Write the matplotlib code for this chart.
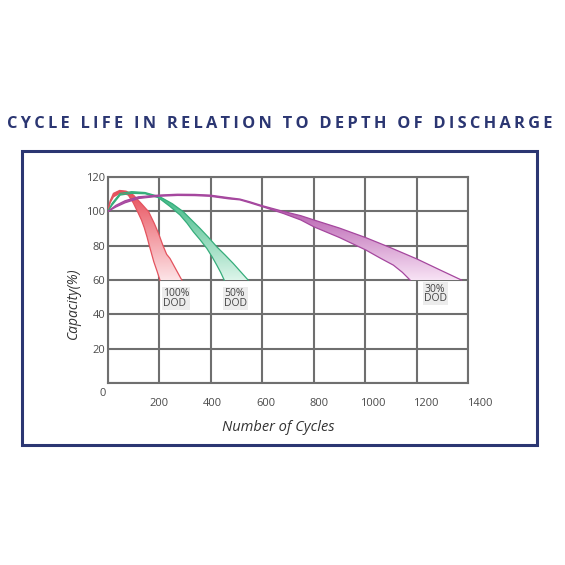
import numpy as np
import matplotlib
matplotlib.use("Agg")
import matplotlib.pyplot as plt
from matplotlib.patches import Polygon, Rectangle
from matplotlib.colors import LinearSegmentedColormap

plt.rcParams['font.family'] = ['Open Sans', 'DejaVu Sans']

# ---- data (cycles, capacity %) ----
red_outer_x = [0, 8, 21, 45, 70, 99, 130, 158, 180, 197, 213, 228, 241, 265, 287]
red_outer_y = [100, 106, 110.5, 112.2, 111.8, 109.5, 104.5, 99.8, 93, 87, 80.4, 75, 72.6, 66, 60]
red_inner_x = [0, 8, 21, 45, 65, 79, 98, 115, 130, 141, 152, 160, 170, 178, 190, 202]
red_inner_y = [100, 105, 108.5, 110.5, 110.3, 109.5, 105, 99.8, 95, 90.5, 85, 80.4, 75, 70.7, 65.5, 60]

green_outer_x = [0, 15, 47, 92, 144, 202, 250, 293, 325, 358, 390, 423, 456, 487, 515, 545]
green_outer_y = [100, 104.5, 110.5, 111.5, 111, 108.5, 104.5, 99.8, 95, 90.1, 85, 79.4, 74.5, 69.7, 65, 60]
green_inner_x = [0, 15, 47, 92, 144, 196, 240, 280, 308, 332, 358, 384, 405, 423, 438, 452]
green_inner_y = [100, 103.5, 109.5, 110.5, 110.3, 108, 103, 97.9, 93, 88.1, 83.5, 78.5, 73.5, 68.7, 64.5, 60]

purple_outer_x = [0, 30, 66, 118, 196, 270, 338, 397, 470, 513, 552, 601, 682, 750, 801,
                  900, 1003, 1100, 1203, 1290, 1375]
purple_outer_y = [100, 103.5, 106.2, 108.5, 109.5, 110, 109.9, 109.5, 108, 107.2, 105.6, 103.3, 100, 97.5, 95,
                  90.3, 84.7, 78.8, 72.2, 66, 60]
purple_inner_x = [0, 30, 66, 118, 196, 270, 338, 397, 470, 513, 552, 601, 682, 750, 801,
                  900, 1003, 1060, 1110, 1145, 1175]
purple_inner_y = [100, 102.5, 105, 107.5, 108.8, 109.3, 109.2, 108.8, 107.3, 106.7, 105, 102.7, 98.8, 95, 91,
                  84.8, 77.5, 72.7, 68.7, 64.5, 60]

x_grid = [0, 200, 400, 600, 800, 1000, 1200, 1400]
y_grid = [0, 20, 40, 60, 80, 100, 120]
x_labels = ['200', '400', '600', '800', '1000', '1200', '1400']
y_labels = ['20', '40', '60', '80', '100', '120']

dod_labels = ['100%\nDOD', '50%\nDOD', '30%\nDOD']
dod_label_x = [214, 451, 1230]
dod_label_y = [55.5, 55.5, 58]

band_colors = [('#e84c58', '#fde4e7'), ('#36b680', '#ddf5ea'), ('#ab45a2', '#f8e3f5')]
edge_colors = ['#e3535e', '#36ad7b', '#a5479e']

fig = plt.figure(figsize=(5.65, 5.65), dpi=100)
ax = fig.add_axes([0.1912, 0.322, 0.637, 0.3646])

bands = [
    (red_outer_x, red_outer_y, red_inner_x, red_inner_y),
    (green_outer_x, green_outer_y, green_inner_x, green_inner_y),
    (purple_outer_x, purple_outer_y, purple_inner_x, purple_inner_y),
]

grad = np.linspace(0, 1, 256).reshape(-1, 1)
for (ox, oy, ix, iy), (c_top, c_bot), ec in zip(bands, band_colors, edge_colors):
    pts = list(zip(ox, oy)) + list(zip(ix, iy))[::-1]
    poly = Polygon(pts, closed=True, facecolor='none', edgecolor='none')
    ax.add_patch(poly)
    cmap = LinearSegmentedColormap.from_list('g', [c_bot, c_top])
    ymin, ymax = min(oy + iy), max(oy + iy)
    im = ax.imshow(grad, extent=[0, max(ox), ymin, ymax], origin='lower',
                   cmap=cmap, aspect='auto', zorder=2)
    im.set_clip_path(poly)
    ax.plot(ox, oy, color=ec, lw=0.9, zorder=3)
    ax.plot(ix, iy, color=ec, lw=0.9, zorder=3)
ax.set_xlim(0, 1400)
ax.set_ylim(0, 120)

# grid
ax.set_xticks(x_grid)
ax.set_yticks(y_grid)
ax.set_xticklabels([])
ax.set_yticklabels([''] + y_labels)
ax.tick_params(length=0, pad=2, labelsize=8, labelcolor='#4a4a4a')
ax.grid(True, color='#6f6f6f', lw=1.5, zorder=1)
ax.set_axisbelow(True)
for sp in ax.spines.values():
    sp.set_color('#6f6f6f')
    sp.set_linewidth(1.5)

# tick labels drift slightly from the grid in the original
for v, lab in zip(x_grid[1:], x_labels):
    ax.text(200 + (v - 200) * 1.037, -11.7, lab, ha='center', va='center',
            fontsize=8, color='#4a4a4a')
ax.text(-8, -5.8, '0', ha='right', va='center', fontsize=8, color='#4a4a4a')

for lab, lx, ly in zip(dod_labels, dod_label_x, dod_label_y):
    ax.text(lx, ly, lab, ha='left', va='top', fontsize=7.5, color='#444444',
            linespacing=0.85, zorder=4,
            bbox=dict(boxstyle='square,pad=0.1', facecolor='#ececec', edgecolor='none'))

ax.text(0.472, -0.218, 'Number of Cycles', transform=ax.transAxes, ha='center', va='center',
        fontsize=10.5, style='italic', color='#333333')
ax.text(-0.097, 0.39, 'Capacity(%)', transform=ax.transAxes, ha='center', va='center',
        rotation=90, fontsize=10, style='italic', color='#333333')

# frame around the chart
fig.patches.append(Rectangle((0.0389, 0.2124), 0.9115, 0.5203, transform=fig.transFigure,
                             facecolor='none', edgecolor='#2b3672', lw=2.2))

title = 'CYCLE LIFE IN RELATION TO DEPTH OF DISCHARGE'
spaced = '\u200a\u200a'.join(title)
fig.text(0.4955, 0.7805, spaced, ha='center', va='center', fontsize=11.75,
         fontweight='bold', color='#2b3672')

fig.savefig('out.png', dpi=100, facecolor='white')
